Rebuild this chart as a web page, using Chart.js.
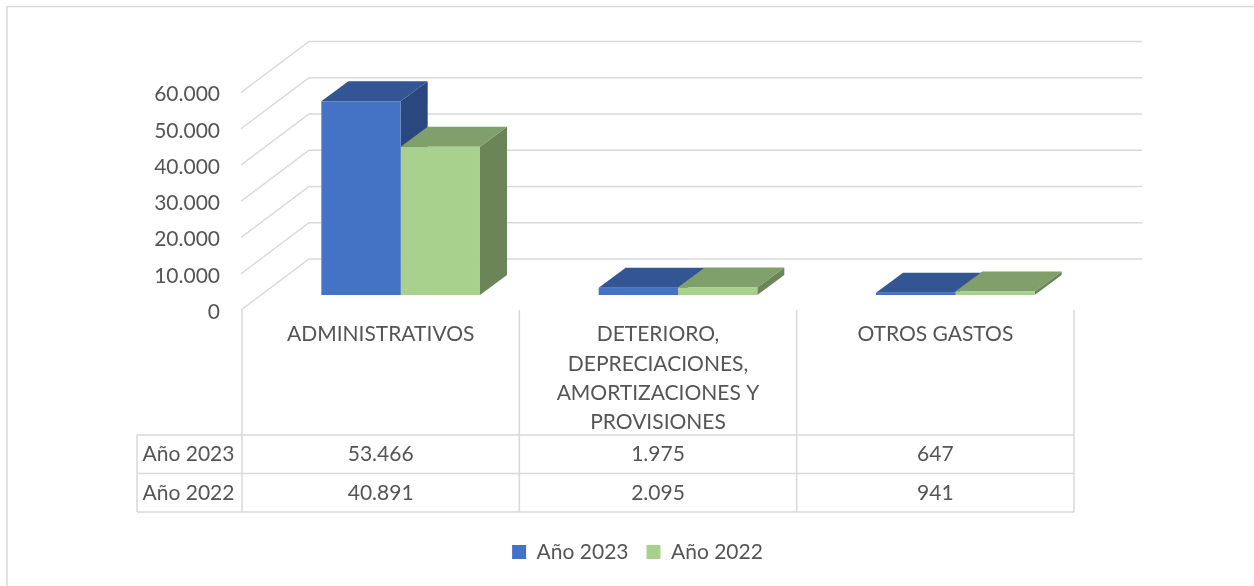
<!DOCTYPE html>
<html lang="es">
<head>
<meta charset="utf-8">
<style>html,body{margin:0;padding:0;background:#fff;overflow:hidden}canvas{display:block}</style>
<script src="https://cdn.jsdelivr.net/npm/chart.js@4/dist/chart.umd.min.js"></script>
</head>
<body>
<canvas id="c" width="1254" height="586"></canvas>
<script>
const categories = [
  ['ADMINISTRATIVOS'],
  ['DETERIORO,', 'DEPRECIACIONES,', 'AMORTIZACIONES Y', 'PROVISIONES'],
  ['OTROS GASTOS']
];
const seriesNames = ['Año 2023', 'Año 2022'];
const values2023 = [53466, 1975, 647];
const values2022 = [40891, 2095, 941];

const FONT = 'Lato, Carlito, Calibri, sans-serif';
const FS = 21;
const TXT = '#555555', GRID = '#D9D9D9';
const fmt = v => String(v).replace(/\B(?=(\d{3})+$)/g, '.');
const faces = [
  {top: '#335593', side: '#2A4780'},
  {top: '#7F9F6B', side: '#6B8559'}
];
const WALL = {dx: 68, dy: -51, right: 1142};
const SHIFT = {dx: 20, dy: -15};
const DEPTH = {dx: 27, dy: -20};
let nudged = false;

const threeD = {
  id: 'threeD',
  afterLayout(chart) {
    chart.legend.left = 200;
    chart.legend.right = 1075;
  },
  beforeDraw(chart) {
    const {ctx, chartArea: a, scales: {y}} = chart;
    if (!nudged) {
      y.getLabelItems().forEach(item => { item.options.translation[1] += 2; });
      nudged = true;
    }
    ctx.save();
    ctx.strokeStyle = GRID;
    ctx.lineWidth = 1.5;
    ctx.strokeRect(7, 6.5, 1500, 900);
    y.ticks.forEach(t => {
      const py = y.getPixelForValue(t.value);
      ctx.beginPath();
      ctx.moveTo(a.left - 1, py);
      ctx.lineTo(a.left + WALL.dx - 1, py + WALL.dy);
      ctx.lineTo(WALL.right, py + WALL.dy);
      ctx.stroke();
    });
    ctx.restore();
  },
  beforeDatasetsDraw(chart) {
    const {ctx} = chart;
    ctx.save();
    ctx.translate(SHIFT.dx, SHIFT.dy);
    const poly = (pts, col) => {
      ctx.fillStyle = col;
      ctx.beginPath();
      pts.forEach((p, i) => i ? ctx.lineTo(p[0], p[1]) : ctx.moveTo(p[0], p[1]));
      ctx.closePath();
      ctx.fill();
    };
    categories.forEach((_, i) => {
      chart.data.datasets.forEach((ds, d) => {
        const el = chart.getDatasetMeta(d).data[i];
        const l = el.x - el.width / 2, r = el.x + el.width / 2, t = el.y, b = el.base;
        poly([[r, t], [r + DEPTH.dx, t + DEPTH.dy], [r + DEPTH.dx, b + DEPTH.dy], [r, b]], faces[d].side);
        poly([[l, t], [l + DEPTH.dx, t + DEPTH.dy], [r + DEPTH.dx, t + DEPTH.dy], [r, t]], faces[d].top);
      });
    });
  },
  afterDatasetsDraw(chart) {
    chart.ctx.restore();
    const {ctx, chartArea: a, data} = chart;
    const cols = categories.length, w = (a.right - a.left) / cols;
    const rowY = [435, 473.5, 512], tableLeft = 137;
    ctx.save();
    ctx.strokeStyle = GRID;
    ctx.lineWidth = 1.5;
    ctx.beginPath();
    for (let i = 0; i <= cols; i++) {
      ctx.moveTo(a.left + i * w, a.bottom);
      ctx.lineTo(a.left + i * w, rowY[2]);
    }
    ctx.moveTo(tableLeft, rowY[0]);
    ctx.lineTo(tableLeft, rowY[2]);
    rowY.forEach(y => { ctx.moveTo(tableLeft, y); ctx.lineTo(a.right, y); });
    ctx.stroke();
    ctx.fillStyle = TXT;
    ctx.font = FS + 'px ' + FONT;
    ctx.textAlign = 'center';
    ctx.textBaseline = 'middle';
    data.datasets.forEach((ds, r) => {
      const cy = (rowY[r] + rowY[r + 1]) / 2;
      ctx.fillText(ds.label, (tableLeft + a.left) / 2 - 1, cy);
      ds.data.forEach((v, i) => ctx.fillText(fmt(v), a.left + (i + 0.5) * w, cy));
    });
    ctx.restore();
  }
};

new Chart(document.getElementById('c'), {
  type: 'bar',
  data: {
    labels: categories,
    datasets: [
      {label: seriesNames[0], data: values2023, backgroundColor: '#4472C4', borderWidth: 0},
      {label: seriesNames[1], data: values2022, backgroundColor: '#A9D18E', borderWidth: 0}
    ]
  },
  options: {
    responsive: false,
    animation: false,
    categoryPercentage: 0.572,
    barPercentage: 1,
    layout: {padding: {left: 0, right: 180, top: 92.5, bottom: 13.5}},
    plugins: {
      tooltip: {enabled: false},
      legend: {
        position: 'bottom',
        labels: {
          boxWidth: 14, boxHeight: 14, padding: 18,
          color: TXT, font: {family: FONT, size: FS}
        }
      }
    },
    scales: {
      x: {
        grid: {display: false, drawTicks: false},
        border: {display: false},
        ticks: {
          color: TXT, padding: 10, maxRotation: 0, autoSkip: false,
          font: {family: FONT, size: FS, lineHeight: 1.39}
        },
        afterFit(s) { s.height = 213.5; s.paddingLeft = 0; s.paddingRight = 0; }
      },
      y: {
        min: 0, max: 60000,
        grid: {display: false, drawTicks: false},
        border: {display: false},
        ticks: {
          stepSize: 10000, color: TXT, padding: 22,
          font: {family: FONT, size: FS},
          callback: v => fmt(v)
        },
        afterFit(s) { s.width = 242; s.paddingTop = 0; s.paddingBottom = 0; }
      }
    }
  },
  plugins: [threeD]
});
</script>
</body>
</html>
